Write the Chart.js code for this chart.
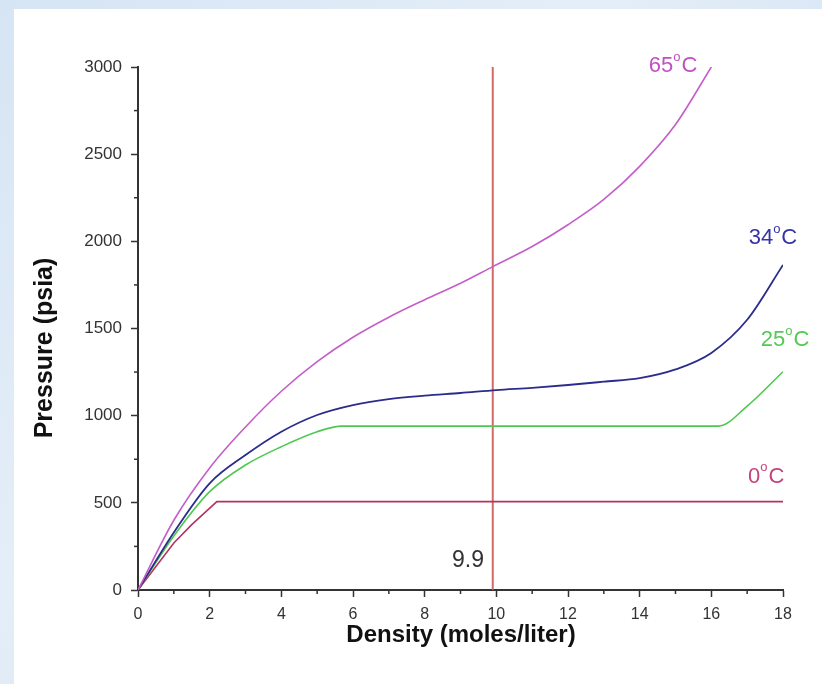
<!DOCTYPE html>
<html>
<head>
<meta charset="utf-8">
<script src="https://cdn.jsdelivr.net/npm/chart.js@4.4.1/dist/chart.umd.min.js"></script>
<style>
html, body { margin:0; padding:0; width:822px; height:684px; overflow:hidden;
  background: linear-gradient(135deg, #d6e5f4 0%, #e4eef8 40%, #d3e2f2 70%, #e0ebf6 100%); }
#wrap { position:absolute; left:14px; top:9px; width:808px; height:675px; background:#fff; }
</style>
</head>
<body>
<div id="wrap"><canvas id="myChart" width="808" height="675"></canvas></div>
<script>
// isotherms: density (moles/liter) vs pressure (psia)
var density65 = [0, 1, 2, 3, 4, 5, 6, 7, 8, 9, 9.9, 11, 12, 13, 14, 15, 16]
var pressure65 = [0, 400, 700, 935, 1140, 1310, 1450, 1565, 1665, 1760, 1855, 1970, 2095, 2240, 2430, 2670, 3000]

var density34 = [0, 1, 2, 3, 4, 5, 6, 7, 8, 9, 10, 11, 12, 13, 14, 15, 16, 17, 18]
var pressure34 = [0, 330, 612, 774, 908, 1004, 1061, 1095, 1115, 1130, 1147, 1160, 1176, 1195, 1215, 1265, 1360, 1550, 1865]

var density25 = [0, 1, 2, 3, 4, 5, 5.7, 16.2, 17, 18]
var pressure25 = [0, 310, 564, 717, 822, 908, 940, 940, 1055, 1252]

var density0 = [0, 1, 1.5, 2.2, 18]
var pressure0 = [0, 270, 375, 507, 507]

// the marked density
var markDensity = [9.9, 9.9]
var markPressure = [0, 3000]

var xTicks = [0, 2, 4, 6, 8, 10, 12, 14, 16, 18]
var yTicks = [0, 500, 1000, 1500, 2000, 2500, 3000]

function pts(xs, ys) {
  return xs.map(function (x, i) { return { x: x, y: ys[i] } })
}

// text placed next to the curves (data coords)
var notes = [
  { num: '65', x: 14.93, y: 3006, color: '#c24fc4' },
  { num: '34', x: 17.72, y: 2019, color: '#3434a6' },
  { num: '25', x: 18.06, y: 1433, color: '#55c855' },
  { num: '0', x: 17.53, y: 650, color: '#c2457c' }
]

var font = "'Liberation Sans', Arial, Helvetica, sans-serif"

var extras = {
  id: 'extras',
  afterDraw: function (chart) {
    var ctx = chart.ctx, xs = chart.scales.x, ys = chart.scales.y
    var area = chart.chartArea
    ctx.save()
    // minor ticks
    ctx.strokeStyle = '#333'
    ctx.lineWidth = 1.5
    for (var v = 1; v < 18; v += 2) {
      var px = xs.getPixelForValue(v)
      ctx.beginPath(); ctx.moveTo(px, area.bottom); ctx.lineTo(px, area.bottom + 4); ctx.stroke()
    }
    for (var w = 250; w < 3000; w += 500) {
      var py = ys.getPixelForValue(w)
      ctx.beginPath(); ctx.moveTo(area.left, py); ctx.lineTo(area.left - 4, py); ctx.stroke()
    }

    // temperature labels with superscript o
    ctx.textBaseline = 'middle'
    notes.forEach(function (n) {
      var cx = xs.getPixelForValue(n.x), cy = ys.getPixelForValue(n.y)
      ctx.font = '22px ' + font
      var wNum = ctx.measureText(n.num).width
      var wC = ctx.measureText('C').width
      ctx.font = '13px ' + font
      var wO = ctx.measureText('o').width
      var start = cx - (wNum + wO + wC + 1) / 2
      ctx.fillStyle = n.color
      ctx.textAlign = 'left'
      ctx.font = '22px ' + font
      ctx.fillText(n.num, start, cy)
      ctx.font = '13px ' + font
      ctx.fillText('o', start + wNum, cy - 9)
      ctx.font = '22px ' + font
      ctx.fillText('C', start + wNum + wO + 1, cy)
    })

    // 9.9 mark label
    ctx.fillStyle = '#333'
    ctx.textAlign = 'center'
    ctx.font = '23px ' + font
    ctx.fillText('9.9', xs.getPixelForValue(9.21), ys.getPixelForValue(166))

    // axis titles
    ctx.fillStyle = '#111'
    ctx.font = 'bold 24px ' + font
    ctx.fillText('Density (moles/liter)', 447, 626)
    ctx.translate(31, 339)
    ctx.rotate(-Math.PI / 2)
    ctx.font = 'bold 25px ' + font
    ctx.fillText('Pressure (psia)', 0, 0)
    ctx.restore()
  }
}

var data = {
  datasets: [
    { label: '65°C', data: pts(density65, pressure65), borderColor: '#c45ec8', borderWidth: 1.6, cubicInterpolationMode: 'monotone' },
    { label: '34°C', data: pts(density34, pressure34), borderColor: '#2c2c8c', borderWidth: 1.8, cubicInterpolationMode: 'monotone' },
    { label: '25°C', data: pts(density25, pressure25), borderColor: '#4fc84f', borderWidth: 1.6, cubicInterpolationMode: 'monotone' },
    { label: '0°C', data: pts(density0, pressure0), borderColor: '#b3335f', borderWidth: 1.6, tension: 0 },
    { label: '9.9', data: pts(markDensity, markPressure), borderColor: 'rgba(205,90,90,0.9)', borderWidth: 2, tension: 0 }
  ]
}

var axisColor = '#333'

const config = {
  type: 'scatter',
  data,
  options: {
    responsive: false,
    animation: false,
    showLine: true,
    elements: { point: { radius: 0, hoverRadius: 0 } },
    layout: { padding: { top: 58, right: 39, left: 0, bottom: 0 } },
    plugins: { legend: { display: false }, tooltip: { enabled: false } },
    scales: {
      x: {
        type: 'linear', min: 0, max: 18,
        afterBuildTicks: function (s) { s.ticks = xTicks.map(function (v) { return { value: v } }) },
        afterFit: function (s) { s.height = 94 },
        grid: { drawOnChartArea: false, tickLength: 7, tickColor: axisColor, tickWidth: 1.5 },
        border: { color: axisColor, width: 2 },
        ticks: { color: '#333', padding: 8, font: { family: font, size: 16 }, maxRotation: 0,
          callback: function (v) { return String(v) } }
      },
      y: {
        type: 'linear', min: 0, max: 3000,
        afterBuildTicks: function (s) { s.ticks = yTicks.map(function (v) { return { value: v } }) },
        afterFit: function (s) { s.width = 124 },
        grid: { drawOnChartArea: false, tickLength: 7, tickColor: axisColor, tickWidth: 1.5 },
        border: { color: axisColor, width: 2 },
        ticks: { color: '#333', padding: 9, font: { family: font, size: 17 },
          callback: function (v) { return String(v) } }
      }
    }
  },
  plugins: [extras]
}

var myChart = new Chart(document.getElementById('myChart'), config)
</script>
</body>
</html>
